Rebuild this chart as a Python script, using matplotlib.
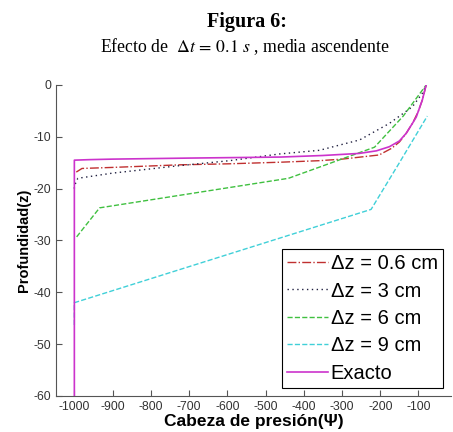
import matplotlib
matplotlib.use("Agg")
import matplotlib.pyplot as plt

plt.rcParams['axes.unicode_minus'] = False
plt.rcParams['mathtext.fontset'] = 'stix'

# ---- data ----
psi_06 = [-995, -980, -900, -724, -594, -463, -359, -300, -203, -170, -150, -132, -115, -100, -90, -80]
z_06   = [-16.8, -16.1, -15.9, -15.4, -15.2, -14.9, -14.6, -14.3, -13.5, -12.2, -11.0, -9.3, -7.3, -5.0, -2.9, 0.0]

psi_3 = [-1000, -1000, -991, -900, -730, -594, -463, -359, -307, -254, -176, -116, -90, -80]
z_3   = [-20.0, -19.5, -18.0, -17.0, -15.6, -14.6, -13.3, -12.6, -11.6, -10.6, -7.4, -4.2, -1.6, 0.0]

psi_6 = [-994, -934, -440, -215, -140, -80]
z_6   = [-29.3, -23.7, -18.0, -12.0, -6.0, 0.0]

psi_9 = [-1000, -1000, -224, -150, -77]
z_9   = [-46.3, -42.0, -24.0, -15.0, -6.0]

psi_ex = [-1000, -1000, -960, -900, -700, -460, -350, -255, -210, -176, -150, -132, -115, -106, -90, -80]
z_ex   = [-60.0, -14.5, -14.4, -14.3, -14.1, -13.9, -13.6, -13.2, -12.7, -11.9, -10.8, -9.3, -7.3, -6.2, -2.9, 0.0]

labels = ["Δz = 0.6 cm", "Δz = 3 cm", "Δz = 6 cm", "Δz = 9 cm", "Exacto"]
xticks = [-1000, -900, -800, -700, -600, -500, -400, -300, -200, -100]
yticks = [0, -10, -20, -30, -40, -50, -60]

fig = plt.figure(figsize=(4.53, 4.32), dpi=100)
ax = fig.add_axes([56/453, 36/432, (451-56)/453, (396-85)/432])

ax.plot(psi_06, z_06, linestyle='-.', color='#c03030', lw=1.0, label=labels[0])
ax.plot(psi_3, z_3, linestyle=(0, (1, 2.5)), color='#202040', lw=1.0, label=labels[1])
ax.plot(psi_6, z_6, linestyle='--', color='#40c040', lw=1.0, label=labels[2])
ax.plot(psi_9, z_9, linestyle='--', color='#40d0d8', lw=1.0, label=labels[3])
ax.plot(psi_ex, z_ex, linestyle='-', color='#cc33cc', lw=1.2, label=labels[4])

ax.set_xlim(-1048, -15)
ax.set_ylim(-60, 0)
ax.set_xticks(xticks)
ax.set_yticks(yticks)
ax.spines['top'].set_visible(False)
ax.spines['right'].set_visible(False)
for s in ['left', 'bottom']:
    ax.spines[s].set_color('#555555')
ax.tick_params(direction='in', length=4, color='#555555', labelcolor='#333333',
               labelsize=8.8, labelfontfamily='Liberation Sans')

ax.set_xlabel("Cabeza de presión(Ψ)", fontsize=12.5, fontweight='bold',
              family='Liberation Sans', labelpad=1)
ax.set_ylabel("Profundidad(z)", fontsize=10.5, fontweight='bold',
              family='Liberation Sans', labelpad=2)

leg = ax.legend(loc='lower right', prop={'family': 'Liberation Sans', 'size': 14.5},
                frameon=True, fancybox=False, edgecolor='black', framealpha=1,
                handlelength=2.0, handletextpad=0.15, borderpad=0.25, labelspacing=0.42,
                borderaxespad=0.4)
leg.get_frame().set_linewidth(0.8)

fig.text(247/453, 1 - 22/432, "Figura 6:", ha='center', va='center',
         fontsize=14.5, fontweight='bold', family='Liberation Serif')
fig.text(245/453, 1 - 47/432, r"Efecto de  $\Delta t\,=\,0.1\ s$ , media ascendente",
         ha='center', va='center', fontsize=12.8, family='Liberation Serif')

fig.savefig("out.png", dpi=100)
